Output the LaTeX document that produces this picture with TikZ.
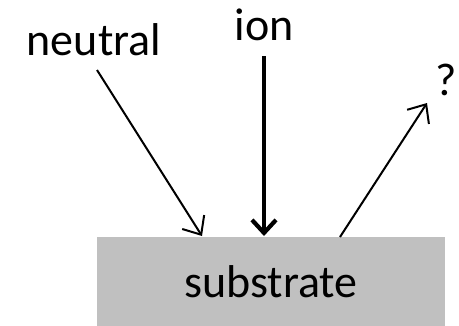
\documentclass[tikz,border=0pt]{standalone}
\usepackage{fontspec}
\setmainfont{Carlito}
\usetikzlibrary{arrows.meta}
\definecolor{subgray}{HTML}{C0C0C0}
\tikzset{
  lbl/.style={font=\fontsize{46}{52}\selectfont, inner sep=0pt, anchor=base},
  thinarrow/.style={line width=2pt, -{Straight Barb[length=15pt, width=26pt, line width=2pt]}},
  thickarrow/.style={line width=4.2pt, -{Straight Barb[length=13pt, width=24pt, line width=4.2pt]}},
}
\begin{document}
\begin{tikzpicture}[x=1pt, y=-1pt]
\useasboundingbox (0,0) rectangle (459,325);
\node[fill=subgray, minimum width=348pt, minimum height=90pt, inner sep=0pt, anchor=north west] (sub) at (97,237) {};
\node[lbl] (subtxt) at (271,297) {substrate};
\node[lbl] (neutral) at (94,55) {neutral};
\node[lbl] (ion) at (264,40) {ion};
\node[lbl] (q) at (446,95) {?};
\coordinate (n0) at (97,70);
\coordinate (n1) at (202,236);
\coordinate (i0) at (264,56);
\coordinate (i1) at (264,236);
\coordinate (q0) at (340,237);
\coordinate (q1) at (427,103);
\draw[thinarrow] (n0) -- (n1);
\draw[thickarrow] (i0) -- (i1);
\draw[thinarrow] (q0) -- (q1);
\end{tikzpicture}
\end{document}
